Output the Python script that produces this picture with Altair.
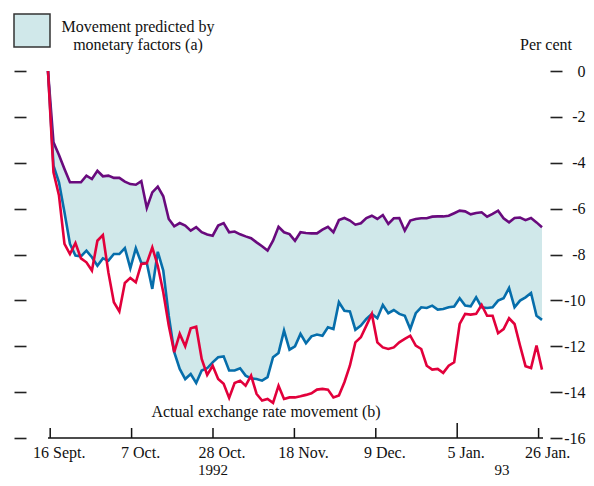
import altair as alt
import pandas as pd

# ---- data (per cent change since 16 Sept. 1992), one value per trading day ----
upper = [0, -3.11, -3.66, -4.27, -4.85, -4.85, -4.85, -4.56, -4.71, -4.35,
         -4.59, -4.56, -4.66, -4.66, -4.82, -4.93, -4.96, -4.80, -5.97, -5.29,
         -5.04, -5.46, -6.45, -6.77, -6.63, -6.74, -6.96, -6.81, -7.03, -7.13,
         -7.18, -6.74, -6.63, -7.03, -7.00, -7.12, -7.21, -7.29, -7.47, -7.64,
         -7.83, -7.40, -6.79, -7.03, -7.11, -7.40, -7.03, -7.06, -7.08, -7.08,
         -6.92, -6.79, -7.03, -6.50, -6.41, -6.52, -6.70, -6.64, -6.41, -6.31,
         -6.45, -6.28, -6.67, -6.42, -6.41, -6.96, -6.52, -6.45, -6.42, -6.42,
         -6.35, -6.34, -6.34, -6.31, -6.20, -6.09, -6.12, -6.25, -6.19, -6.16,
         -6.35, -6.23, -6.09, -6.42, -6.60, -6.41, -6.39, -6.50, -6.41, -6.60,
         -6.81]
lower = [0, -4.13, -4.85, -6.16, -7.54, -8.05, -8.08, -7.83, -8.12, -8.49,
         -8.17, -8.27, -7.98, -7.98, -7.72, -8.60, -7.73, -8.37, -8.37, -9.50,
         -7.88, -8.70, -10.67, -12.26, -12.99, -13.43, -13.21, -13.60, -13.06, -12.96,
         -12.70, -12.48, -12.44, -13.06, -13.06, -12.96, -13.28, -13.40, -13.43, -13.50,
         -13.35, -12.48, -12.29, -11.32, -12.15, -12.00, -11.46, -11.87, -11.57, -11.49,
         -11.54, -11.17, -11.25, -10.08, -10.45, -10.48, -11.28, -11.10, -10.81, -10.59,
         -10.78, -10.20, -10.56, -10.42, -10.59, -10.67, -11.25, -10.56, -10.30, -10.33,
         -10.23, -10.40, -10.38, -10.30, -10.27, -9.91, -10.23, -10.26, -9.87, -10.30,
         -10.33, -10.30, -10.01, -9.91, -9.46, -10.30, -10.01, -9.87, -9.68, -10.67,
         -10.85]
actual = [0, -4.42, -5.43, -7.54, -7.98, -7.50, -8.17, -8.34, -8.70, -7.40,
          -7.15, -8.78, -10.08, -10.48, -9.24, -9.02, -9.21, -8.41, -8.38, -7.69,
          -8.49, -9.65, -11.10, -12.26, -11.46, -12.00, -11.22, -11.15, -12.55, -13.25,
          -12.85, -13.43, -13.64, -14.25, -13.60, -13.50, -13.72, -13.28, -14.08, -14.37,
          -14.30, -14.47, -13.72, -14.30, -14.23, -14.23, -14.18, -14.12, -14.05, -13.89,
          -13.86, -13.89, -14.23, -14.15, -13.57, -12.85, -11.83, -11.61, -11.10, -10.59,
          -11.83, -12.05, -12.12, -12.05, -11.83, -11.68, -11.54, -11.97, -12.12, -12.85,
          -13.02, -12.99, -13.16, -12.85, -12.70, -11.03, -10.59, -10.62, -10.59, -10.20,
          -10.67, -10.67, -11.43, -11.25, -10.78, -11.03, -11.97, -12.87, -12.95, -11.97,
          -13.02]

tick_positions = [0.4, 15.23, 30.06, 44.89, 59.72, 74.55, 89.38]
tick_labels = ["16 Sept.", "7 Oct.", "28 Oct.", "18 Nov.", "9 Dec.", "5 Jan.", "26 Jan."]
year_break_label = "5 Jan."
y_ticks = [0, -2, -4, -6, -8, -10, -12, -14, -16]

FONT = "Liberation Serif"
FILL = "#d0e8ea"
PURPLE = "#690a7d"
BLUE = "#066eab"
RED = "#e2003b"
INK = "#111111"

W, H = 494, 367

df = pd.DataFrame({"day": list(range(len(upper))), "upper": upper,
                   "lower": lower, "actual": actual})
ticks_df = pd.DataFrame({"pos": tick_positions, "label": tick_labels})
one = pd.DataFrame({"k": [0]})

x_scale = alt.Scale(domain=[0, len(upper) - 1], nice=False, zero=False)
y_scale = alt.Scale(domain=[-16, 0], nice=False, zero=False)

left_axis = alt.Axis(orient="left", values=y_ticks, offset=22, tickSize=12,
                     tickWidth=1.6, tickColor="#222222", domain=False,
                     labels=False, grid=False, title=None)
right_axis = alt.Axis(orient="right", values=y_ticks, offset=8, tickSize=12,
                      tickWidth=1.6, tickColor="#222222", domain=False,
                      labelExpr="datum.value == 0 ? '0' : '-' + abs(datum.value)",
                      labelAlign="right", labelPadding=23, labelFont=FONT,
                      labelFontSize=16, labelColor=INK, labelBaseline="middle",
                      grid=False, title=None)

base = alt.Chart(df)
band = base.mark_area(color=FILL, opacity=1).encode(
    x=alt.X("day:Q", scale=x_scale, axis=None),
    y=alt.Y("upper:Q", scale=y_scale, axis=left_axis),
    y2="lower:Q")
line_upper = base.mark_line(color=PURPLE, strokeWidth=2.6).encode(
    x=alt.X("day:Q", scale=x_scale, axis=None),
    y=alt.Y("upper:Q", scale=y_scale, axis=None))
line_lower = base.mark_line(color=BLUE, strokeWidth=2.6).encode(
    x=alt.X("day:Q", scale=x_scale, axis=None),
    y=alt.Y("lower:Q", scale=y_scale, axis=None))
line_actual = base.mark_line(color=RED, strokeWidth=2.6).encode(
    x=alt.X("day:Q", scale=x_scale, axis=None),
    y=alt.Y("actual:Q", scale=y_scale, axis=right_axis))

# bottom axis: baseline, upward ticks (taller at the year break) and labels
x_base = alt.Chart(one).mark_rule(color=INK, strokeWidth=1.5).encode(
    x=alt.value(0), x2=alt.value(W + 1), y=alt.value(H))
xticks = alt.Chart(ticks_df).mark_rule(color=INK, strokeWidth=1.5).encode(
    x=alt.X("pos:Q", scale=x_scale, axis=None),
    y=alt.value(H), y2=alt.value(H - 10)
).transform_filter(alt.datum.label != year_break_label)
xtick_tall = alt.Chart(ticks_df).mark_rule(color=INK, strokeWidth=1.5).encode(
    x=alt.X("pos:Q", scale=x_scale, axis=None),
    y=alt.value(H), y2=alt.value(H - 15)
).transform_filter(alt.datum.label == year_break_label)
xlabels = alt.Chart(ticks_df).mark_text(
    font=FONT, fontSize=16, color=INK, align="center", baseline="alphabetic",
    dx=9).encode(
    x=alt.X("pos:Q", scale=x_scale, axis=None),
    y=alt.value(H + 20), text="label:N")


def txt(x, y, text, size=16):
    return alt.Chart(one).mark_text(font=FONT, fontSize=size, color=INK,
                                    align="center", baseline="alphabetic",
                                    lineHeight=18.5).encode(
        x=alt.value(x), y=alt.value(y), text=alt.value(text))


legend_box = alt.Chart(one).mark_rect(fill=FILL, stroke="#333333",
                                      strokeWidth=1.5).encode(
    x=alt.value(-34), x2=alt.value(2), y=alt.value(-57), y2=alt.value(-24))
legend_text = txt(90, -39.5, ["Movement predicted by", "monetary factors (a)"])
unit_text = txt(498, -21, "Per cent")
actual_text = txt(218, 346, "Actual exchange rate movement (b)")
year1 = txt(165, 403.5, "1992", size=15)
year2 = txt(454, 403.5, "93", size=15)

chart = alt.layer(
    band, line_upper, line_lower, line_actual, x_base, xticks, xtick_tall,
    xlabels, legend_box, legend_text, unit_text, actual_text, year1, year2
).properties(
    width=W, height=H,
    padding={"left": 40, "top": 63, "right": 44, "bottom": 40},
    autosize=alt.AutoSizeParams(type="none"),
    background="white"
).configure_view(stroke=None)

chart.save("out.html", embed_options={"renderer": "svg", "actions": False})
